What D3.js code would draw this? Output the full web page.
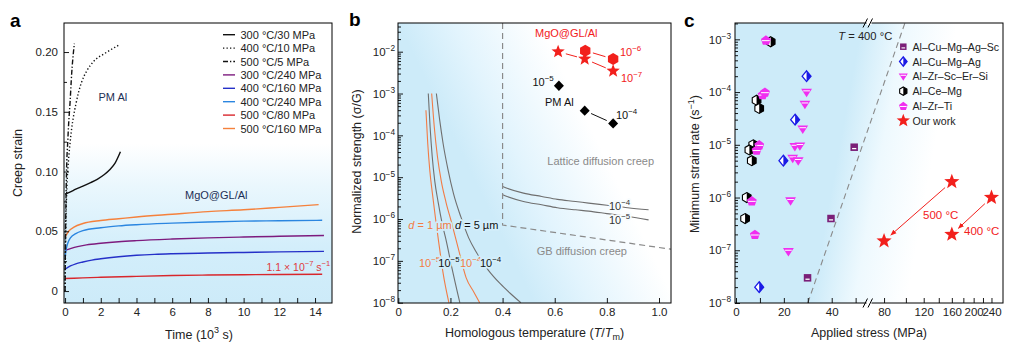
<!DOCTYPE html>
<html>
<head>
<meta charset="utf-8">
<script src="https://cdn.jsdelivr.net/npm/d3@7"></script>
<style>
  body { margin: 0; background: #fff; }
</style>
</head>
<body>
<script>
// ===================== data =====================
// (a) creep curves: time (10^3 s) and creep strain
const legendA = ["300 °C/30 MPa", "400 °C/10 MPa", "500 °C/5 MPa", "300 °C/240 MPa",
                 "400 °C/160 MPa", "400 °C/240 MPa", "500 °C/80 MPa", "500 °C/160 MPa"];
const t_300_30 = [0, 0.3, 0.6, 1.0, 1.4, 1.8, 2.2, 2.5, 2.8, 3.1];
const s_300_30 = [0.081, 0.083, 0.0853, 0.0878, 0.0905, 0.0935, 0.0975, 0.1015, 0.107, 0.1165];
const t_400_10 = [0, 0.02, 0.05, 0.1, 0.19, 0.28, 0.37, 0.47, 0.6, 0.75, 0.93, 1.21, 1.59, 2.24, 2.99];
const s_400_10 = [0, 0.03, 0.06, 0.086, 0.109, 0.124, 0.136, 0.146, 0.156, 0.166, 0.175, 0.184, 0.192, 0.199, 0.2056];
const t_500_5 = [0, 0.02, 0.05, 0.09, 0.15, 0.2, 0.28, 0.37, 0.47, 0.52];
const s_500_5 = [0, 0.04, 0.075, 0.105, 0.125, 0.14, 0.158, 0.182, 0.2, 0.207];
const t_300_240 = [0, 0.3, 0.7, 1.2, 2, 3, 4, 6, 8, 10, 12, 14.5];
const s_300_240 = [0.034, 0.0355, 0.0372, 0.0386, 0.040, 0.0413, 0.0422, 0.0435, 0.0445, 0.0452, 0.0458, 0.0465];
const t_400_160 = [0, 0.3, 0.6, 1, 1.5, 2, 3, 4, 5, 6, 8, 10, 12, 14.5];
const s_400_160 = [0.0182, 0.021, 0.0228, 0.0243, 0.0259, 0.027, 0.0287, 0.0299, 0.0307, 0.0312, 0.0318, 0.0323, 0.0328, 0.0332];
const t_400_240 = [0, 0.05, 0.15, 0.3, 0.6, 1, 2, 3, 4, 6, 8, 10, 12, 14.4];
const s_400_240 = [0.028, 0.034, 0.040, 0.0445, 0.048, 0.0505, 0.053, 0.0545, 0.0555, 0.0568, 0.0578, 0.0585, 0.0588, 0.0592];
const t_500_80 = [0, 1, 2, 4, 6, 8, 10, 12, 14.4];
const s_500_80 = [0.0105, 0.011, 0.0115, 0.0123, 0.013, 0.0134, 0.0137, 0.0139, 0.014];
const t_500_160 = [0, 0.2, 0.5, 1, 2, 3, 4, 6, 8, 10, 12, 14.2];
const s_500_160 = [0.045, 0.050, 0.0535, 0.0565, 0.059, 0.0605, 0.062, 0.0643, 0.0665, 0.068, 0.070, 0.0723];
const ticksA_x = d3.range(0, 15, 1);
const ticksA_y = [0, 0.05, 0.10, 0.15, 0.20];
const minorA_y = [0.025, 0.075, 0.125, 0.175];

// (b) deformation map: homologous temperature and log10 of normalized strength
const lattT   = [0.4, 0.42, 0.48, 0.55, 0.61, 0.68, 0.73, 0.8, 0.88, 0.96];
const latt4Log = [-5.22, -5.27, -5.38, -5.46, -5.53, -5.58, -5.62, -5.67, -5.73, -5.78];
const latt5Log = [-5.42, -5.47, -5.58, -5.66, -5.73, -5.78, -5.81, -5.87, -5.94, -6.02];
const gbD1R5T   = [0.106, 0.113, 0.121, 0.131, 0.143, 0.156, 0.172, 0.194];
const gbD1R5Log = [-3.4, -4.2, -4.85, -5.4, -6.0, -6.6, -7.3, -8.0];
const gbD5R5T   = [0.115, 0.122, 0.13, 0.14, 0.153, 0.168, 0.185, 0.205, 0.236];
const gbD5R5Log = [-3.0, -3.8, -4.5, -5.1, -5.6, -6.1, -6.55, -7.15, -8.0];
const gbD1R4T   = [0.128, 0.138, 0.15, 0.165, 0.183, 0.205, 0.23, 0.26, 0.29, 0.312];
const gbD1R4Log = [-3.0, -3.8, -4.5, -5.1, -5.6, -6.1, -6.7, -7.4, -7.75, -8.0];
const gbD5R4T   = [0.146, 0.158, 0.172, 0.19, 0.212, 0.24, 0.27, 0.3, 0.345, 0.39, 0.43, 0.47];
const gbD5R4Log = [-3.0, -3.6, -4.2, -4.8, -5.4, -5.95, -6.45, -6.8, -7.22, -7.54, -7.78, -8.0];
const boundT = [0.4, 0.4, 1.046];
const boundV = [0.0485, 7.2e-7, 1.9e-7];
const mgoHexT = [0.717, 0.824];
const mgoHexV = [1.06e-2, 6.7e-3];
const mgoStarT = [0.613, 0.715, 0.824];
const mgoStarV = [1.0e-2, 6.7e-3, 3.46e-3];
const pmAlT = [0.616, 0.715, 0.824];
const pmAlV = [1.54e-3, 3.9e-4, 1.93e-4];
const ticksB_x = [0, 0.2, 0.4, 0.6, 0.8, 1.0];

// (c) minimum strain rate vs applied stress
const legendC = ["Al–Cu–Mg–Ag–Sc", "Al–Cu–Mg–Ag", "Al–Zr–Sc–Er–Si", "Al–Ce–Mg", "Al–Zr–Ti", "Our work"];
const sqStress = [49.4, 39.7, 29.9];
const sqRate   = [9e-6, 4e-7, 3e-8];
const diaStress = [29.5, 24.7, 19.8, 9.7];
const diaRate   = [2e-4, 3e-5, 5e-6, 2e-8];
const triStress = [29.5, 28.8, 27.9, 24.6, 26.7, 23.7, 26.0, 22.8, 21.9];
const triRate   = [1e-4, 5.9e-5, 2e-5, 9.3e-6, 9.6e-6, 5.6e-6, 5e-6, 8.7e-7, 9.5e-8];
const hexStress = [14.5, 8.6, 9.7, 7.2, 5.6, 6.6, 4.5, 3.8];
const hexRate   = [9e-4, 7e-5, 4.9e-5, 1e-5, 8e-6, 5e-6, 1e-6, 4e-7];
const pentStress = [12.5, 11.1, 12.1, 9.7, 8.6, 6.6, 7.9];
const pentRate   = [9.7e-4, 9e-5, 1e-4, 1e-5, 8e-6, 8.7e-7, 2e-7];
const ourStress = [80, 160, 160, 240];
const ourRate   = [1.5e-7, 2e-6, 2e-7, 1e-6];
const boundCStress = [30, 100];
const boundCRate   = [1e-8, 2.3e-3];
const ticksC_xL = [0, 10, 20, 30, 40, 50];
const ticksC_xR = [80, 100, 120, 140, 160, 180, 200, 220, 240];
const labelsC_xR = [80, 120, 160, 200, 240];

// ===================== styles =====================
const FONT = '"Liberation Sans", Arial, Helvetica, sans-serif';
const SKY = "#cdebf9";
const INK = "#222";
const TICK_FS = 11.5;
const colorsA = ["#111", "#111", "#111", "#7d1b7e", "#2530c8", "#2b86e0", "#d8262c", "#f5813c"];
const dashesA = [null, "1.3,2.2", "5,2,1.3,2", null, null, null, null, null];
const ORANGE_B = "#f27b45", GRAY_B = "#6f6f6f", RED = "#f2201c";
const PURPLE = "#7a1f78", BLUE_M = "#1a1ae6", MAG = "#f02ef0";

const svg = d3.select("body").append("svg")
  .attr("width", 1013).attr("height", 346)
  .style("font-family", FONT);
const defs = svg.append("defs");

// ---------- helpers ----------
function richText(g, x, y, parts, o = {}) {
  const fs = o.size || 11;
  const t = g.append("text").attr("x", x).attr("y", y)
    .attr("font-size", fs).attr("fill", o.fill || INK);
  if (o.anchor) t.attr("text-anchor", o.anchor);
  if (o.transform) t.attr("transform", o.transform);
  if (o.halo) t.attr("stroke", o.halo).attr("stroke-width", 3.5).attr("paint-order", "stroke").attr("stroke-linejoin", "round");
  let shift = 0;
  parts.forEach(p => {
    const s = typeof p === "string" ? { t: p } : p;
    const ts = t.append("tspan").text(s.t);
    let target = 0;
    if (s.sup) { target = -fs * 0.42; ts.attr("font-size", fs * 0.72); }
    if (s.sub) { target = fs * 0.25; ts.attr("font-size", fs * 0.72); }
    if (s.it) ts.attr("font-style", "italic");
    if (target !== shift) { ts.attr("dy", target - shift); shift = target; }
  });
  return t;
}
function pow10Label(sel) {
  sel.each(function (d) {
    const t = d3.select(this);
    t.text(null);
    t.append("tspan").text("10");
    t.append("tspan").attr("dy", -4.8).attr("font-size", 8.3).text("−" + Math.round(-Math.log10(d)));
  });
}
function styleAxis(g) {
  g.select(".domain").remove();
  g.attr("font-family", null).attr("font-size", TICK_FS).attr("color", INK);
  g.selectAll(".tick line").attr("stroke", "#000").attr("stroke-width", 0.9);
}
function logMinors(lo, hi) {
  const out = [];
  for (let e = -9; e <= 0; e++) for (let m = 2; m <= 9; m++) {
    const v = m * Math.pow(10, e);
    if (v > lo && v < hi) out.push(v);
  }
  return out;
}
function decades(lo, hi) {
  const out = [];
  for (let e = -9; e <= 0; e++) { const v = Math.pow(10, e); if (v >= lo * 0.999 && v <= hi) out.push(v); }
  return out;
}
function zip(a, b) { return a.map((v, i) => [v, b[i]]); }
function clip(id, box) {
  defs.append("clipPath").attr("id", id).append("rect")
    .attr("x", box.l).attr("y", box.t).attr("width", box.r - box.l).attr("height", box.b - box.t);
}
function frame(g, box) {
  g.append("rect").attr("x", box.l).attr("y", box.t).attr("width", box.r - box.l).attr("height", box.b - box.t)
    .attr("fill", "none").attr("stroke", "#000").attr("stroke-width", 1);
}
function starPath(R) {
  const pts = d3.range(10).map(i => {
    const a = (-90 + 36 * i) * Math.PI / 180, r = i % 2 ? R * 0.42 : R;
    return [r * Math.cos(a), r * Math.sin(a)];
  });
  return "M" + pts.map(p => p.join(",")).join("L") + "Z";
}
function hexPath(r) {
  const pts = d3.range(6).map(i => { const a = (-90 + 60 * i) * Math.PI / 180; return [r * Math.cos(a), r * Math.sin(a)]; });
  return "M" + pts.map(p => p.join(",")).join("L") + "Z";
}
function shortSeg(g, p0, p1, gap, color, w) {
  const dx = p1[0] - p0[0], dy = p1[1] - p0[1], L = Math.hypot(dx, dy);
  const ux = dx / L, uy = dy / L;
  return g.append("line")
    .attr("x1", p0[0] + ux * gap).attr("y1", p0[1] + uy * gap)
    .attr("x2", p1[0] - ux * gap).attr("y2", p1[1] - uy * gap)
    .attr("stroke", color).attr("stroke-width", w);
}

// ===================== panel a =====================
const boxA = { l: 64, r: 332, t: 23, b: 303 };
const xA = d3.scaleLinear().domain([-0.06, 14.95]).range([boxA.l, boxA.r]);
const yA = d3.scaleLinear().domain([-0.01, 0.2243]).range([boxA.b, boxA.t]);
const gA = svg.append("g");
clip("clipA", boxA);

const gradA = defs.append("linearGradient").attr("id", "gradA").attr("x1", 0).attr("y1", 0).attr("x2", 0).attr("y2", 1);
[[0, "#fff"], [0.43, "#fff"], [0.58, "#eaf7fd"], [0.8, "#d3eefb"], [1, SKY]].forEach(s =>
  gradA.append("stop").attr("offset", s[0]).attr("stop-color", s[1]));
gA.append("rect").attr("x", boxA.l).attr("y", boxA.t).attr("width", boxA.r - boxA.l).attr("height", boxA.b - boxA.t)
  .attr("fill", "url(#gradA)");

const seriesT = [t_300_30, t_400_10, t_500_5, t_300_240, t_400_160, t_400_240, t_500_80, t_500_160];
const seriesS = [s_300_30, s_400_10, s_500_5, s_300_240, s_400_160, s_400_240, s_500_80, s_500_160];
const lineA = d3.line().x(d => xA(d[0])).y(d => yA(d[1])).curve(d3.curveMonotoneX);
const curvesA = gA.append("g").attr("clip-path", "url(#clipA)");
[6, 4, 3, 5, 7, 0, 1, 2].forEach(i => {
  curvesA.append("path").attr("d", lineA(zip(seriesT[i], seriesS[i])))
    .attr("fill", "none").attr("stroke", colorsA[i]).attr("stroke-width", 1.4)
    .attr("stroke-dasharray", dashesA[i]);
});

// axes a
gA.append("g").attr("transform", `translate(0,${boxA.b})`)
  .call(d3.axisBottom(xA).tickValues(ticksA_x).tickFormat(d => d % 2 ? "" : d).tickSize(-5).tickPadding(5))
  .call(styleAxis);
gA.append("g").attr("transform", `translate(${boxA.l},0)`)
  .call(d3.axisLeft(yA).tickValues(ticksA_y).tickFormat(d => d === 0 ? "0" : d3.format(".2f")(d)).tickSize(-5).tickPadding(6))
  .call(styleAxis);
gA.append("g").attr("transform", `translate(${boxA.l},0)`)
  .call(d3.axisLeft(yA).tickValues(minorA_y).tickFormat("").tickSize(-3))
  .call(styleAxis);
frame(gA, boxA);

// legend a
legendA.forEach((lab, i) => {
  const y = 34.7 + i * 13.4;
  gA.append("line").attr("x1", 223).attr("x2", 235).attr("y1", y).attr("y2", y)
    .attr("stroke", colorsA[i]).attr("stroke-width", 1.4).attr("stroke-dasharray", dashesA[i]);
  gA.append("text").attr("x", 240.5).attr("y", y + 4).attr("font-size", 11).attr("fill", INK).text(lab);
});
richText(gA, 98.5, 101, ["PM Al"], { fill: "#1d2f55" });
richText(gA, 185, 199, ["MgO@GL/Al"], { fill: "#1d2f55" });
richText(gA, 266.5, 270.5, ["1.1 × 10", { t: "−7", sup: 1 }, " s", { t: "−1", sup: 1 }], { fill: "#e0383c", size: 10.5 });
richText(gA, 22, 163, ["Creep strain"], { size: 12.5, anchor: "middle", transform: "rotate(-90,22,163)" });
richText(gA, 199, 338.5, ["Time (10", { t: "3", sup: 1 }, " s)"], { size: 12.5, anchor: "middle" });
gA.append("text").attr("x", 10).attr("y", 27).attr("font-size", 19).attr("font-weight", "bold").text("a");

// ===================== panel b =====================
const boxB = { l: 398, r: 671, t: 23, b: 303 };
const xB = d3.scaleLinear().domain([0, 1.046]).range([398.3, boxB.r]);
const yB = d3.scaleLog().domain([1e-8, 0.0485]).range([302.7, boxB.t]);
const gB = svg.append("g");
clip("clipB", boxB);

const gradB = defs.append("linearGradient").attr("id", "gradB")
  .attr("x1", 0).attr("y1", 0.2).attr("x2", 0.8).attr("y2", -0.2);
[[0, SKY], [0.1, SKY], [0.3, "#e2f4fd"], [0.62, "#fff"], [1, "#fff"]].forEach(s =>
  gradB.append("stop").attr("offset", s[0]).attr("stop-color", s[1]));
gB.append("rect").attr("x", boxB.l).attr("y", boxB.t).attr("width", boxB.r - boxB.l).attr("height", boxB.b - boxB.t)
  .attr("fill", "url(#gradB)");

const lineB = d3.line().x(d => xB(d[0])).y(d => yB(d[1])).curve(d3.curveMonotoneX);
const curvesB = gB.append("g").attr("clip-path", "url(#clipB)");
const toV = a => a.map(e => Math.pow(10, e));
[[gbD1R5T, gbD1R5Log, ORANGE_B], [gbD5R5T, gbD5R5Log, GRAY_B], [gbD1R4T, gbD1R4Log, ORANGE_B], [gbD5R4T, gbD5R4Log, GRAY_B],
 [lattT, latt4Log, GRAY_B], [lattT, latt5Log, GRAY_B]].forEach(c => {
  curvesB.append("path").attr("d", lineB(zip(c[0], toV(c[1]))))
    .attr("fill", "none").attr("stroke", c[2]).attr("stroke-width", 1.1);
});
curvesB.append("path").attr("d", d3.line().x(d => xB(d[0])).y(d => yB(d[1]))(zip(boundT, boundV)))
  .attr("fill", "none").attr("stroke", "#8a8a8a").attr("stroke-width", 1.2).attr("stroke-dasharray", "6,4");

// MgO@GL/Al and PM Al points
const pHex = zip(mgoHexT, mgoHexV).map(d => [xB(d[0]), yB(d[1])]);
const pStar = zip(mgoStarT, mgoStarV).map(d => [xB(d[0]), yB(d[1])]);
const pDia = zip(pmAlT, pmAlV).map(d => [xB(d[0]), yB(d[1])]);
shortSeg(gB, pHex[0], pHex[1], 8, RED, 1);
shortSeg(gB, pStar[0], pStar[1], 8, RED, 1);
shortSeg(gB, pStar[1], pStar[2], 8, RED, 1);
shortSeg(gB, pDia[1], pDia[2], 7, "#111", 1);
pHex.forEach(p => gB.append("path").attr("d", hexPath(6)).attr("transform", `translate(${p})`).attr("fill", RED));
pStar.forEach(p => gB.append("path").attr("d", starPath(7)).attr("transform", `translate(${p})`).attr("fill", RED));
pDia.forEach(p => gB.append("path").attr("d", "M0,-5.2L5,0L0,5.2L-5,0Z").attr("transform", `translate(${p})`).attr("fill", "#000"));

// axes b
gB.append("g").attr("transform", `translate(0,${boxB.b})`)
  .call(d3.axisBottom(xB).tickValues(ticksB_x).tickFormat(d => d === 0 ? "0" : d3.format(".1f")(d)).tickSize(-5).tickPadding(5))
  .call(styleAxis);
gB.append("g").attr("transform", `translate(${boxB.l},0)`)
  .call(d3.axisLeft(yB).tickValues(decades(1e-8, 0.0485)).tickSize(-5).tickPadding(3))
  .call(styleAxis).call(g => g.selectAll(".tick text").call(pow10Label));
gB.append("g").attr("transform", `translate(${boxB.l},0)`)
  .call(d3.axisLeft(yB).tickValues(logMinors(1e-8, 0.0485)).tickFormat("").tickSize(-3))
  .call(styleAxis);
frame(gB, boxB);

// labels b
richText(gB, 535, 37.3, ["MgO@GL/Al"], { fill: RED });
richText(gB, 620, 55.5, ["10", { t: "−6", sup: 1 }], { fill: RED });
richText(gB, 621, 82, ["10", { t: "−7", sup: 1 }], { fill: RED });
richText(gB, 532.5, 85.5, ["10", { t: "−5", sup: 1 }], { fill: "#111" });
richText(gB, 545, 105.5, ["PM Al"], { fill: "#111" });
richText(gB, 616, 119, ["10", { t: "−4", sup: 1 }], { fill: "#111" });
richText(gB, 547.3, 164.5, ["Lattice diffusion creep"], { fill: "#8a8a8a" });
richText(gB, 536.7, 254.5, ["GB diffusion creep"], { fill: "#8a8a8a" });
richText(gB, 609, 209.5, ["10", { t: "−4", sup: 1 }], { fill: "#333", halo: "#f7fcfe" });
richText(gB, 609, 223.5, ["10", { t: "−5", sup: 1 }], { fill: "#333", halo: "#f7fcfe" });
richText(gB, 408.3, 228.5, [{ t: "d", it: 1 }, " = 1 µm"], { fill: ORANGE_B, halo: "#d0ecfa" });
richText(gB, 455, 228.5, [{ t: "d", it: 1 }, " = 5 µm"], { fill: "#111", halo: "#d3eefb" });
richText(gB, 419, 266.5, ["10", { t: "−5", sup: 1 }], { fill: ORANGE_B, halo: "#cfecfa" });
richText(gB, 438.3, 266.5, ["10", { t: "−5", sup: 1 }], { fill: "#111", halo: "#cfecfa" });
richText(gB, 460, 266.5, ["10", { t: "−4", sup: 1 }], { fill: ORANGE_B, halo: "#d0edfa" });
richText(gB, 480, 266.5, ["10", { t: "−4", sup: 1 }], { fill: "#111", halo: "#d3eefb" });
richText(gB, 361, 161.5, ["Normalized strength (σ/", { t: "G", it: 0 }, ")"], { size: 12.5, anchor: "middle", transform: "rotate(-90,361,161.5)" });
richText(gB, 534.5, 336.5, ["Homologous temperature (", { t: "T", it: 1 }, "/", { t: "T", it: 1 }, { t: "m", sub: 1 }, ")"], { size: 12.5, anchor: "middle" });
gB.append("text").attr("x", 349).attr("y", 26).attr("font-size", 19).attr("font-weight", "bold").text("b");

// ===================== panel c =====================
const boxC = { l: 735, r: 1003, t: 23, b: 303 };
const xCL = d3.scaleLinear().domain([0, 55]).range([736, 867.6]);
const xCR = d3.scaleLog().domain([70, 270]).range([871, boxC.r]);
const xC = v => v <= 60 ? xCL(v) : xCR(v);
const yC = d3.scaleLog().domain([1e-8, 2.04e-3]).range([boxC.b, boxC.t]);
const gC = svg.append("g");
clip("clipC", boxC);

const gradC = defs.append("linearGradient").attr("id", "gradC")
  .attr("x1", 0.3).attr("y1", 0.5).attr("x2", 0.72).attr("y2", 0.58);
[[0, SKY], [0.18, SKY], [0.55, "#eef9fe"], [1, "#fff"]].forEach(s =>
  gradC.append("stop").attr("offset", s[0]).attr("stop-color", s[1]));
gC.append("rect").attr("x", boxC.l).attr("y", boxC.t).attr("width", boxC.r - boxC.l).attr("height", boxC.b - boxC.t)
  .attr("fill", "url(#gradC)");

gC.append("line")
  .attr("x1", xC(boundCStress[0])).attr("y1", yC(boundCRate[0]))
  .attr("x2", xC(boundCStress[1])).attr("y2", yC(boundCRate[1]))
  .attr("stroke", "#8a8a8a").attr("stroke-width", 1.1).attr("stroke-dasharray", "6,4");

// marker shapes
function mkSquare(g, s) {
  g.append("rect").attr("x", -s / 2).attr("y", -s / 2).attr("width", s).attr("height", s).attr("fill", PURPLE);
  g.append("rect").attr("x", -s * 0.28).attr("y", s * 0.1).attr("width", s * 0.56).attr("height", s * 0.17).attr("fill", "#fff");
}
function mkDiamond(g, r) {
  const w = r * 0.82;
  g.append("path").attr("d", `M0,${-r}L${w},0L0,${r}L${-w},0Z`).attr("fill", "#fff").attr("stroke", BLUE_M).attr("stroke-width", 1.3);
  g.append("path").attr("d", `M0,${-r}L${w},0L0,${r}Z`).attr("fill", BLUE_M);
}
function mkTri(g, r) {
  g.append("path").attr("d", `M${-r},${-r * 0.62}L${r},${-r * 0.62}L0,${r * 0.95}Z`).attr("fill", MAG);
  g.append("line").attr("x1", -r * 0.62).attr("x2", r * 0.62).attr("y1", -r * 0.22).attr("y2", -r * 0.22)
    .attr("stroke", "#fff").attr("stroke-width", 1);
}
function mkHex(g, r) {
  const c = r * Math.cos(Math.PI / 6);
  g.append("path").attr("d", hexPath(r)).attr("fill", "#fff").attr("stroke", "#000").attr("stroke-width", 1.1);
  g.append("path").attr("d", `M0,${-r}L${c},${-r / 2}L${c},${r / 2}L0,${r}Z`).attr("fill", "#000");
}
function mkPent(g, r) {
  const pts = d3.range(5).map(i => { const a = (-90 + 72 * i) * Math.PI / 180; return [r * Math.cos(a), r * Math.sin(a) + r * 0.1]; });
  g.append("path").attr("d", "M" + pts.map(p => p.join(",")).join("L") + "Z").attr("fill", MAG);
  g.append("line").attr("x1", -r * 0.75).attr("x2", r * 0.75).attr("y1", r * 0.12).attr("y2", r * 0.12)
    .attr("stroke", "#fff").attr("stroke-width", 1);
}
function mkStar(g, r) { g.append("path").attr("d", starPath(r)).attr("fill", RED); }

function plotC(xs, ys, fn, size) {
  xs.forEach((x, i) => fn(gC.append("g").attr("transform", `translate(${xC(x)},${yC(ys[i])})`), size));
}
plotC(hexStress, hexRate, mkHex, 5);
plotC(pentStress, pentRate, mkPent, 5.2);
plotC(sqStress, sqRate, mkSquare, 7.5);
plotC(diaStress, diaRate, mkDiamond, 5.4);
plotC(triStress, triRate, mkTri, 5.4);

// arrows between our-work points
defs.append("marker").attr("id", "arrowC").attr("viewBox", "0 0 10 10").attr("refX", 9).attr("refY", 5)
  .attr("markerWidth", 6).attr("markerHeight", 6).attr("orient", "auto")
  .append("path").attr("d", "M0,1L10,5L0,9Z").attr("fill", RED);
const pOur = zip(ourStress, ourRate).map(d => [xC(d[0]), yC(d[1])]);
shortSeg(gC, pOur[1], pOur[0], 9, RED, 1).attr("marker-end", "url(#arrowC)");
shortSeg(gC, pOur[3], pOur[2], 9, RED, 1).attr("marker-end", "url(#arrowC)");
plotC(ourStress, ourRate, mkStar, 8);

// axes c
gC.append("g").attr("transform", `translate(0,${boxC.b})`)
  .call(d3.axisBottom(xCL).tickValues(ticksC_xL).tickFormat(d => d % 20 ? "" : d).tickSize(-5).tickPadding(5))
  .call(styleAxis);
gC.append("g").attr("transform", `translate(0,${boxC.b})`)
  .call(d3.axisBottom(xCR).tickValues(ticksC_xR).tickFormat(d => labelsC_xR.includes(d) ? d : "").tickSize(-5).tickPadding(5))
  .call(styleAxis);
gC.append("g").attr("transform", `translate(${boxC.l},0)`)
  .call(d3.axisLeft(yC).tickValues(decades(1e-8, 2.04e-3)).tickSize(-5).tickPadding(4))
  .call(styleAxis).call(g => g.selectAll(".tick text").call(pow10Label));
gC.append("g").attr("transform", `translate(${boxC.l},0)`)
  .call(d3.axisLeft(yC).tickValues(logMinors(1e-8, 2.04e-3)).tickFormat("").tickSize(-3))
  .call(styleAxis);
frame(gC, boxC);

// axis break marks
[boxC.t, boxC.b].forEach(y => {
  gC.append("rect").attr("x", 866.5).attr("y", y - 2).attr("width", 5).attr("height", 4).attr("fill", "#fff");
  [865, 870].forEach(x0 => gC.append("line").attr("x1", x0 - 2).attr("y1", y + 4.5).attr("x2", x0 + 2.5).attr("y2", y - 4.5)
    .attr("stroke", "#000").attr("stroke-width", 1));
});

// legend c
const legendFns = [mkSquare, mkDiamond, mkTri, mkHex, mkPent, mkStar];
const legendSizes = [6.5, 4.6, 4.6, 4.2, 4.5, 7];
legendC.forEach((lab, i) => {
  const y = 46.7 + i * 14.8;
  legendFns[i](gC.append("g").attr("transform", `translate(903.3,${y})`), legendSizes[i]);
  gC.append("text").attr("x", 912.5).attr("y", y + 4).attr("font-size", 10.6).attr("fill", INK).text(lab);
});
richText(gC, 838.3, 39.5, [{ t: "T", it: 1 }, " = 400 °C"], { size: 11.2 });
richText(gC, 923, 218.5, ["500 °C"], { fill: RED, size: 11.5 });
richText(gC, 964, 235, ["400 °C"], { fill: RED, size: 11.5 });
richText(gC, 699, 164, ["Minimum strain rate (s", { t: "−1", sup: 1 }, ")"], { size: 12.5, anchor: "middle", transform: "rotate(-90,699,164)" });
richText(gC, 869, 336.5, ["Applied stress (MPa)"], { size: 12.5, anchor: "middle" });
gC.append("text").attr("x", 684).attr("y", 26.5).attr("font-size", 19).attr("font-weight", "bold").text("c");
</script>
</body>
</html>
